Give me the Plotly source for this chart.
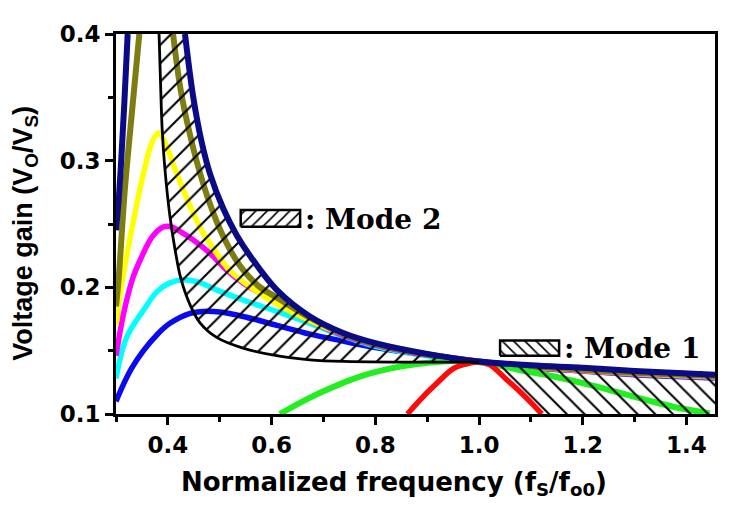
import plotly.graph_objects as go

# ---------------- data ----------------
X_RANGE = [0.3, 1.455]
Y_RANGE = [0.1, 0.4]
X_TICKS = [0.4, 0.6, 0.8, 1.0, 1.2, 1.4]
Y_TICKS = [0.1, 0.2, 0.3, 0.4]

NAVY_RISE_X = [0.300, 0.305, 0.310, 0.316, 0.3225]
NAVY_RISE_Y = [0.245, 0.268, 0.300, 0.345, 0.400]
NAVY_FALL_X = [0.433, 0.449, 0.465, 0.481, 0.507, 0.533, 0.560, 0.610, 0.674, 0.738, 0.800, 0.900, 1.000, 1.100, 1.200, 1.300, 1.455]
NAVY_FALL_Y = [0.400, 0.350, 0.315, 0.290, 0.262, 0.241, 0.224, 0.198, 0.177, 0.164, 0.156, 0.1475, 0.1415, 0.1385, 0.1365, 0.134, 0.131]

OLIVE_RISE_X = [0.300, 0.305, 0.317, 0.333, 0.345]
OLIVE_RISE_Y = [0.185, 0.206, 0.277, 0.348, 0.400]
OLIVE_FALL_X = [0.410, 0.425, 0.443, 0.460, 0.481, 0.507, 0.539, 0.575, 0.610, 0.674, 0.738, 0.800, 0.900, 1.000, 1.100, 1.200, 1.300, 1.455]
OLIVE_FALL_Y = [0.400, 0.355, 0.320, 0.293, 0.266, 0.240, 0.217, 0.201, 0.192, 0.176, 0.163, 0.155, 0.147, 0.1415, 0.1375, 0.135, 0.1325, 0.130]

YELLOW_X = [0.300, 0.310, 0.330, 0.353, 0.370, 0.382, 0.390, 0.398, 0.417, 0.443, 0.468, 0.494, 0.520, 0.578, 0.641, 0.706, 0.770, 0.850, 0.920, 1.000, 1.100, 1.200, 1.300, 1.455]
YELLOW_Y = [0.170, 0.200, 0.245, 0.290, 0.315, 0.322, 0.318, 0.311, 0.290, 0.264, 0.243, 0.227, 0.213, 0.195, 0.180, 0.168, 0.159, 0.1515, 0.146, 0.1415, 0.137, 0.1345, 0.132, 0.1295]

MAGENTA_X = [0.300, 0.315, 0.333, 0.346, 0.370, 0.390, 0.405, 0.420, 0.449, 0.481, 0.513, 0.545, 0.610, 0.674, 0.738, 0.800, 0.900, 1.000, 1.100, 1.200, 1.300, 1.455]
MAGENTA_Y = [0.146, 0.180, 0.208, 0.221, 0.240, 0.2475, 0.248, 0.245, 0.2374, 0.227, 0.2137, 0.2035, 0.188, 0.1735, 0.162, 0.1545, 0.1465, 0.1415, 0.1368, 0.134, 0.1315, 0.129]

CYAN_X = [0.300, 0.320, 0.353, 0.380, 0.404, 0.430, 0.460, 0.500, 0.545, 0.610, 0.674, 0.738, 0.800, 0.900, 1.000, 1.100, 1.200, 1.300, 1.455]
CYAN_Y = [0.128, 0.160, 0.182, 0.197, 0.2035, 0.206, 0.204, 0.197, 0.190, 0.181, 0.1715, 0.1615, 0.1535, 0.146, 0.1415, 0.1368, 0.134, 0.1315, 0.129]

BLUE_X = [0.300, 0.315, 0.330, 0.353, 0.380, 0.404, 0.443, 0.470, 0.500, 0.545, 0.610, 0.674, 0.738, 0.800, 0.900, 1.000, 1.100, 1.200, 1.300, 1.455]
BLUE_Y = [0.110, 0.124, 0.136, 0.150, 0.163, 0.1716, 0.1795, 0.181, 0.1805, 0.177, 0.170, 0.163, 0.1575, 0.1525, 0.1465, 0.1415, 0.1368, 0.134, 0.131, 0.1285]

GREEN_X = [0.616, 0.660, 0.700, 0.770, 0.830, 0.880, 0.930, 0.980, 1.030, 1.080, 1.140, 1.227, 1.323, 1.388, 1.445]
GREEN_Y = [0.100, 0.110, 0.118, 0.1295, 0.136, 0.1395, 0.1415, 0.1418, 0.139, 0.1345, 0.130, 0.1216, 0.111, 0.1045, 0.1005]

RED_X = [0.862, 0.886, 0.918, 0.951, 0.975, 0.996, 1.020, 1.054, 1.079, 1.105, 1.121]
RED_Y = [0.100, 0.111, 0.124, 0.136, 0.1395, 0.141, 0.139, 0.1268, 0.1176, 0.107, 0.100]

BLACK_X = [0.383, 0.386, 0.389, 0.394, 0.404, 0.414, 0.425, 0.443, 0.462, 0.494, 0.545, 0.610, 0.674, 0.738, 0.850, 1.000]
BLACK_Y = [0.400, 0.360, 0.325, 0.295, 0.256, 0.2295, 0.207, 0.186, 0.172, 0.1605, 0.152, 0.146, 0.1428, 0.1415, 0.141, 0.141]

MODE_LABELS = [": Mode 2", ": Mode 1"]

# ---------------- styling / layout constants ----------------
C_NAVY = "#0b0b86"
C_OLIVE = "#7d7d12"
C_YELLOW = "#ffff00"
C_MAGENTA = "#ff00ff"
C_CYAN = "#00ffff"
C_BLUE = "#0a0af0"
C_GREEN = "#22ee22"
C_RED = "#ff0a0a"

SANS = "Liberation Sans, Arial, sans-serif"
WIDE_SANS = "DejaVu Sans, sans-serif"
SERIF = "DejaVu Serif, serif"

# legend box positions (data units)
BOX_M2 = dict(x0=0.5405, x1=0.655, y0=0.2479, y1=0.2610)
BOX_M1 = dict(x0=1.0406, x1=1.1544, y0=0.1460, y1=0.1580)

fig = go.Figure()

def curve(x, y, color, width):
    fig.add_trace(go.Scatter(x=x, y=y, mode="lines",
                             line=dict(color=color, width=width, shape="spline", smoothing=1.0),
                             hoverinfo="skip", showlegend=False, cliponaxis=True))

# coloured curves below hatching
curve(BLUE_X, BLUE_Y, C_BLUE, 5.5)
curve(CYAN_X, CYAN_Y, C_CYAN, 5.5)
curve(MAGENTA_X, MAGENTA_Y, C_MAGENTA, 5.5)
curve(YELLOW_X, YELLOW_Y, C_YELLOW, 5.5)
curve(OLIVE_RISE_X, OLIVE_RISE_Y, C_OLIVE, 6)
curve(OLIVE_FALL_X, OLIVE_FALL_Y, C_OLIVE, 6)
curve(GREEN_X, GREEN_Y, C_GREEN, 6)

# Mode 2 hatched region: between navy (upper) and black (lower) curve
m2_x = [x for x in NAVY_FALL_X if x <= 1.0]
m2_y = [y for x, y in zip(NAVY_FALL_X, NAVY_FALL_Y) if x <= 1.0]
m2_x += BLACK_X[::-1]
m2_y += BLACK_Y[::-1]
fig.add_trace(go.Scatter(x=m2_x, y=m2_y, mode="lines", fill="toself",
                         line=dict(width=0, shape="spline", smoothing=0.6),
                         fillcolor="rgba(0,0,0,0)",
                         fillpattern=dict(shape="/", size=13, solidity=0.16, fgopacity=1,
                                          fgcolor="black", bgcolor="rgba(0,0,0,0)"),
                         hoverinfo="skip", showlegend=False))

# Mode 1 hatched region: between navy (upper) and red curve / bottom axis
m1_x = [x for x in NAVY_FALL_X if x >= 1.0] + [X_RANGE[1]]
m1_y = [y for x, y in zip(NAVY_FALL_X, NAVY_FALL_Y) if x >= 1.0] + [Y_RANGE[0]]
m1_x += [x for x in RED_X[::-1] if x >= 0.99]
m1_y += [y for x, y in zip(RED_X[::-1], RED_Y[::-1]) if x >= 0.99]
fig.add_trace(go.Scatter(x=m1_x, y=m1_y, mode="lines", fill="toself",
                         line=dict(width=0, shape="spline", smoothing=0.6),
                         fillcolor="rgba(0,0,0,0)",
                         fillpattern=dict(shape="\\", size=12.5, solidity=0.16, fgopacity=1,
                                          fgcolor="black", bgcolor="rgba(0,0,0,0)"),
                         hoverinfo="skip", showlegend=False))

curve(RED_X, RED_Y, C_RED, 5.5)
curve(NAVY_RISE_X, NAVY_RISE_Y, C_NAVY, 6)
curve(NAVY_FALL_X, NAVY_FALL_Y, C_NAVY, 6)
curve(BLACK_X, BLACK_Y, "black", 2.8)

# legend boxes
for box, shape in ((BOX_M2, "/"), (BOX_M1, "\\")):
    bx = [box["x0"], box["x1"], box["x1"], box["x0"], box["x0"]]
    by = [box["y0"], box["y0"], box["y1"], box["y1"], box["y0"]]
    fig.add_trace(go.Scatter(x=bx, y=by, mode="lines", fill="toself",
                             line=dict(color="black", width=2.5),
                             fillcolor="white",
                             fillpattern=dict(shape=shape, size=8, solidity=0.2, fgopacity=1,
                                              fgcolor="black", bgcolor="white"),
                             hoverinfo="skip", showlegend=False))

annotations = [
    dict(x=BOX_M2["x1"] + 0.006, y=(BOX_M2["y0"] + BOX_M2["y1"]) / 2 - 0.0005, text=MODE_LABELS[0],
         xref="x", yref="y", xanchor="left", yanchor="middle", showarrow=False,
         font=dict(family=SERIF, size=28, color="black", weight="bold")),
    dict(x=BOX_M1["x1"] + 0.006, y=(BOX_M1["y0"] + BOX_M1["y1"]) / 2, text=MODE_LABELS[1],
         xref="x", yref="y", xanchor="left", yanchor="middle", showarrow=False,
         font=dict(family=SERIF, size=28, color="black", weight="bold")),
    dict(x=0.4633, y=-0.135, xref="paper", yref="paper", xanchor="center", yanchor="top",
         text="Normalized frequency (f<sub>S</sub>/f<sub>o0</sub>)", showarrow=False,
         font=dict(family=WIDE_SANS, size=26, color="black", weight="bold")),
    dict(x=-0.153, y=0.475, xref="paper", yref="paper", xanchor="center", yanchor="middle",
         text="Voltage gain (V<sub>O</sub>/V<sub>S</sub>)", textangle=-90, showarrow=False,
         font=dict(family=SANS, size=27, color="black", weight="bold")),
]

axis_common = dict(showline=True, linecolor="black", linewidth=3, mirror=True,
                   showgrid=False, zeroline=False, ticks="outside", ticklen=8, tickwidth=3,
                   tickcolor="black", tickformat=".1f",
                   tickfont=dict(family=WIDE_SANS, size=23, color="black", weight="bold"))

# the page body adds an 8 px offset, so the figure is 8 px smaller than the window
fig.update_layout(
    width=730, height=502,
    margin=dict(l=108, r=23, t=26, b=96),
    paper_bgcolor="white", plot_bgcolor="white",
    showlegend=False,
    annotations=annotations,
    xaxis=dict(range=X_RANGE, tickvals=X_TICKS,
               minor=dict(dtick=0.1, tick0=0.3, ticks="outside", ticklen=5, tickwidth=2.5, tickcolor="black"),
               **axis_common),
    yaxis=dict(range=Y_RANGE, tickvals=Y_TICKS,
               minor=dict(dtick=0.05, tick0=0.1, ticks="outside", ticklen=5, tickwidth=2.5, tickcolor="black"),
               **axis_common),
)

fig.write_html("out.html")
